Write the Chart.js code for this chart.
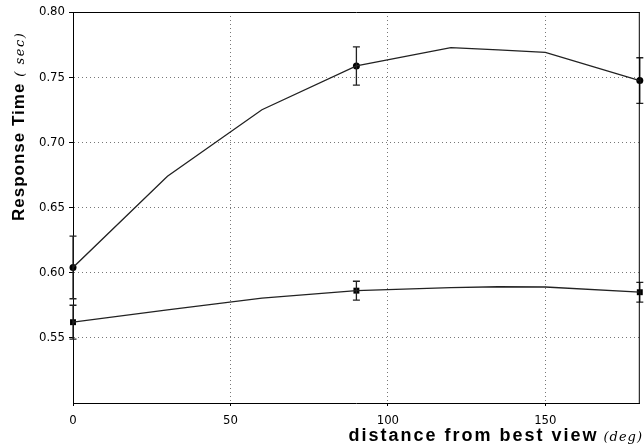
<!DOCTYPE html>
<html>
<head>
<meta charset="utf-8">
<script src="https://cdn.jsdelivr.net/npm/chart.js@4/dist/chart.umd.min.js"></script>
<style>
  html, body { margin: 0; padding: 0; background: #fff; }
  canvas { display: block; }
</style>
</head>
<body>
<canvas id="rtChart" width="644" height="446"></canvas>
<script>
// curve samples (deg, sec)
const angles = [0, 30, 60, 90, 120, 135, 150, 180];
const upperCurve = [0.604, 0.674, 0.725, 0.7586, 0.7727, 0.771, 0.769, 0.7474];
const lowerCurve = [0.562, 0.5715, 0.5805, 0.5862, 0.5885, 0.5892, 0.589, 0.585];

// measured means with error bars
const markerAngles = [0, 90, 180];
const upperMeans = [0.604, 0.7586, 0.7474];
const upperErr = [0.024, 0.0147, 0.0175];
const lowerMeans = [0.562, 0.5862, 0.585];
const lowerErr = [0.013, 0.0072, 0.0076];

const xGridValues = [50, 100, 150];
const yGridValues = [0.55, 0.6, 0.65, 0.7, 0.75];

const tickFont = { family: "'Liberation Sans Narrow', 'DejaVu Sans Condensed', sans-serif", size: 13 };

function toPoints(xs, ys) {
  return xs.map((x, i) => ({ x: x, y: ys[i] }));
}

function isOneOf(v, list) {
  return list.some((g) => Math.abs(g - v) < 1e-6);
}

const errorBarPlugin = {
  id: 'errorBars',
  afterDatasetsDraw(chart) {
    const ctx = chart.ctx;
    const xs = chart.scales.x;
    const ys = chart.scales.y;
    const sets = [[upperMeans, upperErr], [lowerMeans, lowerErr]];
    ctx.save();
    ctx.strokeStyle = '#222';
    ctx.lineWidth = 1.3;
    sets.forEach(([means, errs]) => {
      markerAngles.forEach((a, i) => {
        const px = xs.getPixelForValue(a);
        const top = ys.getPixelForValue(means[i] + errs[i]);
        const bot = ys.getPixelForValue(means[i] - errs[i]);
        ctx.beginPath();
        ctx.moveTo(px, top);
        ctx.lineTo(px, bot);
        ctx.moveTo(px - 3.5, top);
        ctx.lineTo(px + 3.5, top);
        ctx.moveTo(px - 3.5, bot);
        ctx.lineTo(px + 3.5, bot);
        ctx.stroke();
      });
    });
    ctx.restore();
  },
};

const frameTitlesPlugin = {
  id: 'frameTitles',
  afterDraw(chart) {
    const ctx = chart.ctx;
    const a = chart.chartArea;
    ctx.save();
    // top and right edges of the box
    ctx.strokeStyle = '#000';
    ctx.lineWidth = 1;
    ctx.beginPath();
    ctx.moveTo(a.left, a.top + 0.5);
    ctx.lineTo(a.right, a.top + 0.5);
    ctx.moveTo(a.right - 0.5, a.top);
    ctx.lineTo(a.right - 0.5, a.bottom);
    ctx.stroke();

    ctx.fillStyle = '#000';
    ctx.textBaseline = 'alphabetic';

    // x title
    ctx.letterSpacing = '1px';
    ctx.font = "italic 13px 'DejaVu Serif', serif";
    const unitX = '(deg)';
    const unitW = ctx.measureText(unitX).width;
    ctx.textAlign = 'right';
    ctx.fillText(unitX, 643, 441);
    ctx.letterSpacing = '2px';
    ctx.font = "bold 18px 'Liberation Sans', Arial, sans-serif";
    ctx.fillText('distance from best view', 643 - unitW - 5, 441);

    // y title
    ctx.translate(24, 221);
    ctx.rotate(-Math.PI / 2);
    ctx.textAlign = 'left';
    ctx.letterSpacing = '1px';
    ctx.font = "bold 17px 'Liberation Sans', Arial, sans-serif";
    ctx.fillText('Response Time', 0, 0);
    const mainW = ctx.measureText('Response Time').width;
    ctx.letterSpacing = '1.5px';
    ctx.font = "italic 13px 'DejaVu Serif', serif";
    ctx.fillText('( sec)', mainW + 6, 0);
    ctx.restore();
  },
};

Chart.register(errorBarPlugin, frameTitlesPlugin);

const chart = new Chart(document.getElementById('rtChart').getContext('2d'), {
  type: 'line',
  data: {
    datasets: [
      {
        data: toPoints(angles, upperCurve),
        borderColor: '#222',
        borderWidth: 1.3,
        pointRadius: 0,
        tension: 0,
      },
      {
        data: toPoints(angles, lowerCurve),
        borderColor: '#222',
        borderWidth: 1.3,
        pointRadius: 0,
        tension: 0,
      },
      {
        data: toPoints(markerAngles, upperMeans),
        showLine: false,
        pointStyle: 'circle',
        pointRadius: 3.5,
        backgroundColor: '#000',
        borderColor: '#000',
        borderWidth: 0,
        clip: false,
      },
      {
        data: toPoints(markerAngles, lowerMeans),
        showLine: false,
        pointStyle: 'rect',
        pointRadius: 4.2,
        backgroundColor: '#000',
        borderColor: '#000',
        borderWidth: 0,
        clip: false,
      },
    ],
  },
  options: {
    responsive: false,
    devicePixelRatio: 1,
    animation: false,
    layout: { padding: { top: 12, right: 1, left: 0, bottom: 0 } },
    plugins: {
      legend: { display: false },
      tooltip: { enabled: false },
    },
    scales: {
      x: {
        type: 'linear',
        min: 0,
        max: 180,
        afterFit: (scale) => { scale.height = 43; },
        ticks: {
          stepSize: 50,
          includeBounds: false,
          padding: 7,
          color: '#000',
          font: tickFont,
          maxRotation: 0,
        },
        grid: {
          color: (c) => (c.tick && isOneOf(c.tick.value, xGridValues) ? '#777' : 'rgba(0,0,0,0)'),
          tickColor: '#000',
          tickLength: 3,
          tickBorderDash: [],
        },
        border: { color: '#000', width: 1, dash: [1, 3] },
      },
      y: {
        min: 0.5,
        max: 0.8,
        afterFit: (scale) => { scale.width = 73; },
        ticks: {
          stepSize: 0.05,
          padding: 4,
          color: '#000',
          font: tickFont,
          callback: (v) => (Math.abs(v - 0.5) < 1e-6 ? '' : v.toFixed(2)),
        },
        grid: {
          color: (c) => (c.tick && isOneOf(c.tick.value, yGridValues) ? '#777' : 'rgba(0,0,0,0)'),
          tickColor: (c) => (c.tick && Math.abs(c.tick.value - 0.5) < 1e-6 ? 'rgba(0,0,0,0)' : '#000'),
          tickLength: 4,
          tickBorderDash: [],
        },
        border: { color: '#000', width: 1, dash: [1, 3] },
      },
    },
  },
});
</script>
</body>
</html>
